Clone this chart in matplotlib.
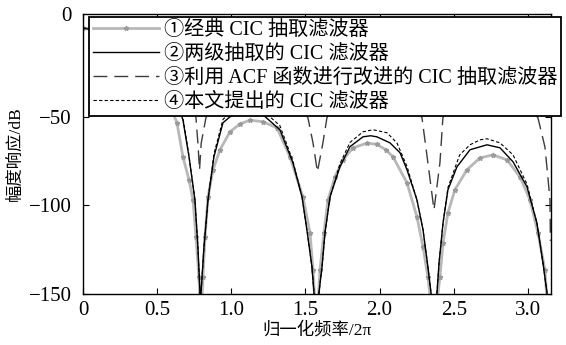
# -*- coding: utf-8 -*-

import matplotlib
matplotlib.use("Agg")
import matplotlib.pyplot as plt


# --------------------------------------------------
# 0. Fonts
# --------------------------------------------------

plt.rcParams["font.family"] = ["Liberation Serif", "Noto Sans CJK SC", "DejaVu Sans"]
plt.rcParams["axes.unicode_minus"] = True


# --------------------------------------------------
# 1. Data (x = normalised frequency, y = dB)
# --------------------------------------------------

# ① classic CIC decimation filter
classic_x = [0, 0.2, 0.4, 0.52, 0.634, 0.674, 0.715, 0.742, 0.762, 0.782, 0.795,
             0.809, 0.823, 0.843, 0.877, 0.924, 0.991, 1.059, 1.126, 1.214, 1.308,
             1.396, 1.483, 1.531, 1.551, 1.575, 1.598, 1.625, 1.652, 1.699, 1.753,
             1.821, 1.915, 1.982, 2.040, 2.090, 2.185, 2.252, 2.293, 2.326, 2.366,
             2.407, 2.428, 2.461, 2.508, 2.589, 2.677, 2.765, 2.859, 2.947, 3.014,
             3.068, 3.115, 3.142]
classic_y = [0, -2.5, -15.5, -30, -53.4, -72.6, -85.6, -96.9, -117.8, -140.4, -170,
             -140.4, -117.8, -95.2, -79.9, -68.6, -58.5, -54.0, -51.9, -52.8, -56.2,
             -72.6, -95.2, -115.5, -136.4, -170, -136.4, -115.5, -96.9, -83.9, -74.3,
             -67.5, -64.9, -65.5, -68.5, -72.5, -87.3, -106.5, -123.4, -140.4, -170,
             -140.4, -121.2, -104.2, -91.2, -79.9, -73.2, -71.5, -74.3, -83.9, -96.9,
             -115.5, -136.4, -170]

# ② two-stage CIC filter
two_stage_x = [0, 0.2, 0.4, 0.55, 0.62, 0.674, 0.715, 0.755, 0.775, 0.789, 0.792,
               0.796, 0.816, 0.843, 0.883, 0.944, 0.991, 1.06, 1.13, 1.214, 1.328,
               1.416, 1.477, 1.510, 1.544, 1.558, 1.575, 1.591, 1.612, 1.632, 1.666,
               1.733, 1.800, 1.888, 1.940, 1.982, 2.070, 2.138, 2.185, 2.252, 2.293,
               2.326, 2.347, 2.367, 2.387, 2.401, 2.428, 2.461, 2.522, 2.610, 2.724,
               2.812, 2.900, 2.994, 3.061, 3.102, 3.129, 3.142]
two_stage_y = [0, -1.5, -9, -26, -38, -51.7, -72.6, -96.9, -123.4, -149.4, -170,
               -149.4, -123.4, -96.9, -72.6, -53.4, -50.0, -48.0, -47.3, -48.9, -57.3,
               -76.0, -95.2, -113.8, -134.7, -149.4, -170, -149.4, -134.7, -115.5, -95.2,
               -78.2, -66.9, -61.3, -60.7, -61.3, -64.7, -70.3, -79.9, -96.9, -113.8,
               -134.7, -149.4, -170, -149.4, -132.5, -109.9, -91.2, -78.2, -68.6, -65.8,
               -67.5, -75.4, -89.5, -109.9, -132.5, -149.4, -170]

# ③ CIC filter improved with ACF
acf_x = [0, 0.3, 0.5, 0.65, 0.72, 0.762, 0.775, 0.786, 0.797, 0.829, 0.88, 1.0,
         1.18, 1.35, 1.46, 1.517, 1.551, 1.581, 1.618, 1.645, 1.70, 1.80, 1.96,
         2.12, 2.22, 2.286, 2.326, 2.367, 2.407, 2.427, 2.48, 2.6, 2.75, 2.9, 3.0,
         3.068, 3.115, 3.135, 3.149, 3.152]
acf_y = [0, -5, -15, -30, -40, -50.6, -65, -80, -65, -50.6, -40, -30,
         -27, -32, -42, -50.6, -64.7, -81.1, -64.7, -50.6, -42, -34, -31,
         -35, -42, -50.6, -76.0, -102.5, -76.0, -50.6, -42, -35, -33, -37, -43,
         -50.6, -67, -84, -97, -120]

# ④ proposed CIC filter
proposed_x = [0, 0.2, 0.4, 0.55, 0.62, 0.674, 0.715, 0.755, 0.775, 0.789, 0.792,
              0.796, 0.816, 0.843, 0.883, 0.944, 0.991, 1.06, 1.13, 1.214, 1.328,
              1.416, 1.477, 1.510, 1.544, 1.558, 1.575, 1.591, 1.612, 1.632, 1.666,
              1.733, 1.800, 1.888, 1.955, 2.050, 2.117, 2.185, 2.252, 2.293, 2.326,
              2.347, 2.367, 2.387, 2.401, 2.428, 2.461, 2.540, 2.610, 2.677, 2.724,
              2.812, 2.900, 2.994, 3.061, 3.102, 3.129, 3.142]
proposed_y = [0, -1.2, -8, -24, -36, -50.5, -72, -96.9, -123.4, -149.4, -170,
              -149.4, -123.4, -96.9, -71, -51.5, -47.5, -45.5, -45.0, -46.5, -55,
              -75, -95.2, -113.8, -134.7, -149.4, -170, -149.4, -134.7, -115.5, -95.2,
              -76.5, -64.5, -58.5, -57.3, -59.0, -64.7, -78, -96.9, -113.8, -134.7,
              -149.4, -170, -149.4, -132.5, -109.9, -90, -71.5, -65.8, -63.0, -62.4,
              -64.7, -71.5, -88, -109.9, -132.5, -149.4, -170]

labels = [
    "①经典 CIC 抽取滤波器",
    "②两级抽取的 CIC 滤波器",
    "③利用 ACF 函数进行改进的 CIC 抽取滤波器",
    "④本文提出的 CIC 滤波器",
]

x_ticks = [0, 0.5, 1.0, 1.5, 2.0, 2.5, 3.0]
x_tick_labels = ["0", "0.5", "1.0", "1.5", "2.0", "2.5", "3.0"]
y_ticks = [-150, -100, -50, 0]
y_tick_labels = ["\u2212150", "\u2212100", "\u221250", ""]


# --------------------------------------------------
# 2. Plot
# --------------------------------------------------

fig = plt.figure(figsize=(5.66, 3.45), dpi=100)
ax = fig.add_axes([0.1466, 0.1478, 0.8269, 0.8116])

ax.plot(classic_x, classic_y, color="#b8b8b8", linewidth=2.0,
        marker="*", markersize=3.5, markerfacecolor="#9a9a9a",
        markeredgecolor="#9a9a9a", label=labels[0])
ax.plot(two_stage_x, two_stage_y, color="black", linewidth=1.0, label=labels[1])
ax.plot(acf_x, acf_y, color="#3c3c3c", linewidth=1.0, dashes=(10, 5),
        label=labels[2])
ax.plot(proposed_x, proposed_y, color="black", linewidth=0.8, dashes=(3, 2),
        label=labels[3])

ax.set_xlim(0, 3.156)
ax.set_ylim(-150, 8)

ax.set_xticks(x_ticks)
ax.set_xticklabels(x_tick_labels)
ax.set_yticks(y_ticks)
ax.set_yticklabels(y_tick_labels)
ax.tick_params(direction="in", top=True, right=True, length=4, width=0.8,
               labelsize=15)
ax.tick_params(axis="y", pad=8)
ax.tick_params(axis="x", pad=5)

# the "0" label sits at the top of the axis in the original
ax.annotate("0", xy=(0, 0.99), xycoords="axes fraction",
            xytext=(-8.5, 0), textcoords="offset points",
            ha="right", va="center", fontsize=15)

for spine in ax.spines.values():
    spine.set_linewidth(1.0)

ax.set_xlabel("归一化频率/2π", fontsize=12.5, labelpad=1)
ax.set_ylabel("幅度响应/dB", fontsize=12.5, labelpad=4)

leg = ax.legend(loc="upper left", bbox_to_anchor=(89 / 566, 1 - 17 / 345),
                bbox_transform=fig.transFigure, borderaxespad=0,
                fontsize=14.5, handlelength=3.3, handletextpad=0.2,
                labelspacing=0.24, borderpad=0.2, fancybox=False,
                framealpha=1, edgecolor="black")
leg.get_frame().set_linewidth(1.3)

fig.savefig("out.png", dpi=100)
